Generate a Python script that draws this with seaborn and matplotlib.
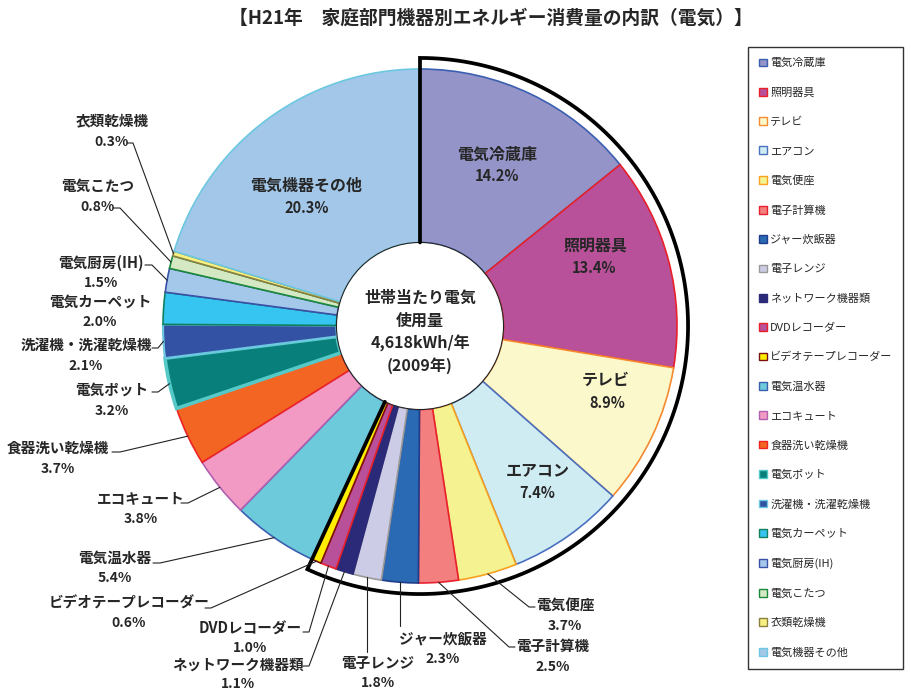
import numpy as np
import matplotlib
matplotlib.use("Agg")
import matplotlib.pyplot as plt
from matplotlib.patches import Patch, Circle
import seaborn as sns

sns.set_style("white")
plt.rcParams["font.family"] = ["Noto Sans CJK JP", "DejaVu Sans"]

# ── Data (H21 / 2009, household electricity by appliance, %) ──
categories = ["電気冷蔵庫", "照明器具", "テレビ", "エアコン", "電気便座", "電子計算機",
              "ジャー炊飯器", "電子レンジ", "ネットワーク機器類", "DVDレコーダー",
              "ビデオテープレコーダー", "電気温水器", "エコキュート", "食器洗い乾燥機",
              "電気ポット", "洗濯機・洗濯乾燥機", "電気カーペット", "電気厨房(IH)",
              "電気こたつ", "衣類乾燥機", "電気機器その他"]
shares = [14.2, 13.4, 8.9, 7.4, 3.7, 2.5, 2.3, 1.8, 1.1, 1.0, 0.6,
          5.4, 3.8, 3.7, 3.2, 2.1, 2.0, 1.5, 0.8, 0.3, 20.3]
face_colors = ["#9494c8", "#b8519a", "#fbf8cc", "#d0ecf3", "#f5f291", "#f37f7f",
               "#2a6ab5", "#cccce6", "#2b2a78", "#b8509a", "#ffee00", "#6ccadb",
               "#f29ac4", "#f26522", "#087f7a", "#3452a4", "#35c5f0", "#a4c8ea",
               "#d4e8c4", "#f7f080", "#a3c7e8"]
edge_colors = ["#3b5fb0", "#e8202a", "#f58a30", "#4a70c0", "#f8a020", "#e82030",
               "#1f3d8a", "#999999", "#2b2a78", "#e8202a", "#7a1010", "#3b5fb0",
               "#b060b0", "#ee2222", "#55c8c8", "#6cc8e0", "#108060", "#3b50a8",
               "#1a8a3a", "#8a8040", "#6cc8e0"]
n_outlined = 11   # first 11 items are boxed by the thick black outline

W, H = 912, 697
CX, CY, R = 420, 326, 257      # pie centre / radius in pixels
R_IN = 0.325
R_OUT = 1.043


def px(x, y):
    return (x - CX) / R, (CY - y) / R


fig = plt.figure(figsize=(W / 100, H / 100), dpi=100)
ax = fig.add_axes([0, 0, 1, 1])

wedges, _ = ax.pie(shares, startangle=90, counterclock=False, radius=1.0,
                   colors=face_colors,
                   wedgeprops=dict(width=1 - R_IN, linewidth=1.2))
for w, ec, cat in zip(wedges, edge_colors, categories):
    w.set_edgecolor(ec)
    if cat == "電気ポット":
        w.set_linewidth(2.6)
    elif cat == "洗濯機・洗濯乾燥機":
        w.set_linewidth(1.6)

ax.set_xlim(-CX / R, (W - CX) / R)
ax.set_ylim(-(H - CY) / R, CY / R)
ax.set_aspect("auto")
ax.axis("off")

# white centre
ax.add_patch(Circle((0, 0), R_IN, facecolor="white", edgecolor="#222222",
                    lw=0.8, zorder=3))

# thick black outline round the first group
end_ang = 90 - 3.6 * sum(shares[:n_outlined])
ang = np.radians(np.linspace(90, end_ang, 300))
ox = np.concatenate([[R_IN * np.cos(ang[0])], R_OUT * np.cos(ang), [R_IN * np.cos(ang[-1])]])
oy = np.concatenate([[R_IN * np.sin(ang[0])], R_OUT * np.sin(ang), [R_IN * np.sin(ang[-1])]])
ax.plot(ox, oy, color="black", lw=2.7, solid_joinstyle="miter", zorder=4)

cum = np.cumsum(shares) - np.array(shares) / 2
mid_ang = np.radians(90 - 3.6 * cum)

txt_kw = dict(fontweight="bold", ha="center", va="center", zorder=6)

# labels inside the ring: name centre, pct centre (pixels)
inside_pos = {"電気冷蔵庫": ((497, 155), (497, 176)),
              "照明器具": ((595, 246), (594, 268)),
              "テレビ": ((606, 380), (607, 403)),
              "エアコン": ((538, 470), (537, 493)),
              "電気機器その他": ((306, 186), (307, 208))}
# labels outside: name centre, pct gap, leader elbow, tick start (pixels)
outside_pos = {
    "衣類乾燥機": ((112, 121), 21, (133, 143), 127),
    "電気こたつ": ((98, 186), 21, (120, 208), 113),
    "電気厨房(IH)": ((101, 263), 20, (152, 265), 145),
    "電気カーペット": ((100, 302), 20, None, None),
    "洗濯機・洗濯乾燥機": ((86, 345), 21, (158, 348), 152),
    "電気ポット": ((112, 390), 21, (158, 392), 152),
    "食器洗い乾燥機": ((58, 448), 21, (120, 452), 112),
    "エコキュート": ((141, 498), 21, (188, 503), 181),
    "電気温水器": ((115, 558), 20, (160, 563), 153),
    "ビデオテープレコーダー": ((129, 603), 20, (211, 608), 205),
    "DVDレコーダー": ((250, 629), 19, (309, 632), 303),
    "ネットワーク機器類": ((238, 665), 19, (309, 666), 303),
    "電子レンジ": ((378, 663), 20, "v", 652),
    "ジャー炊飯器": ((443, 638), 21, "v", 626),
    "電子計算機": ((553, 646), 21, (509, 647), 515),
    "電気便座": ((565, 605), 21, (529, 607), 535),
}

for i, cat in enumerate(categories):
    pct = f"{shares[i]:.1f}%"
    if cat in inside_pos:
        (x, y), (x2, y2) = inside_pos[cat]
        ax.text(*px(x, y), cat, fontsize=11.5, **txt_kw)
        ax.text(*px(x2, y2), pct, fontsize=10.5, **txt_kw)
        continue
    (x, y), gap, elbow, tick = outside_pos[cat]
    ax.text(*px(x, y), cat, fontsize=10.5, **txt_kw)
    ax.text(*px(x, y + gap), pct, fontsize=10, **txt_kw)
    axx, axy = np.cos(mid_ang[i]), np.sin(mid_ang[i])
    if elbow is None:
        continue
    if elbow == "v":
        ey = px(0, tick)[1]
        ax.plot([axx, axx], [axy, ey], color="#222222", lw=0.8, zorder=5)
    else:
        ex, ey = px(*elbow)
        tx = px(tick, 0)[0]
        ax.plot([tx, ex, axx], [ey, ey, axy], color="#222222", lw=0.8, zorder=5)

# centre text
for txt, yy in [("世帯当たり電気", 298), ("使用量", 321), ("4,618kWh/年", 343), ("(2009年)", 366)]:
    ax.text(*px(CX, yy), txt, fontsize=11.5, **txt_kw)

# title
fig.text(491 / W, 1 - 18 / H, "【H21年\u3000家庭部門機器別エネルギー消費量の内訳（電気）】",
         fontsize=13.5, fontweight="bold", ha="center", va="center")

# legend
handles = [Patch(facecolor=fc, edgecolor=ec, lw=1.0) for fc, ec in zip(face_colors, edge_colors)]
leg = fig.legend(handles, categories, loc="upper left",
                 bbox_to_anchor=(748 / W, 1 - 47 / H, 155 / W, 0), mode="expand",
                 borderaxespad=0, fontsize=8, labelspacing=1.72, handlelength=0.7,
                 handleheight=0.7, handletextpad=0.3, borderpad=1.0,
                 fancybox=False, framealpha=1, edgecolor="#333333")
leg.get_frame().set_linewidth(1.0)

fig.savefig("out.png", dpi=100)
